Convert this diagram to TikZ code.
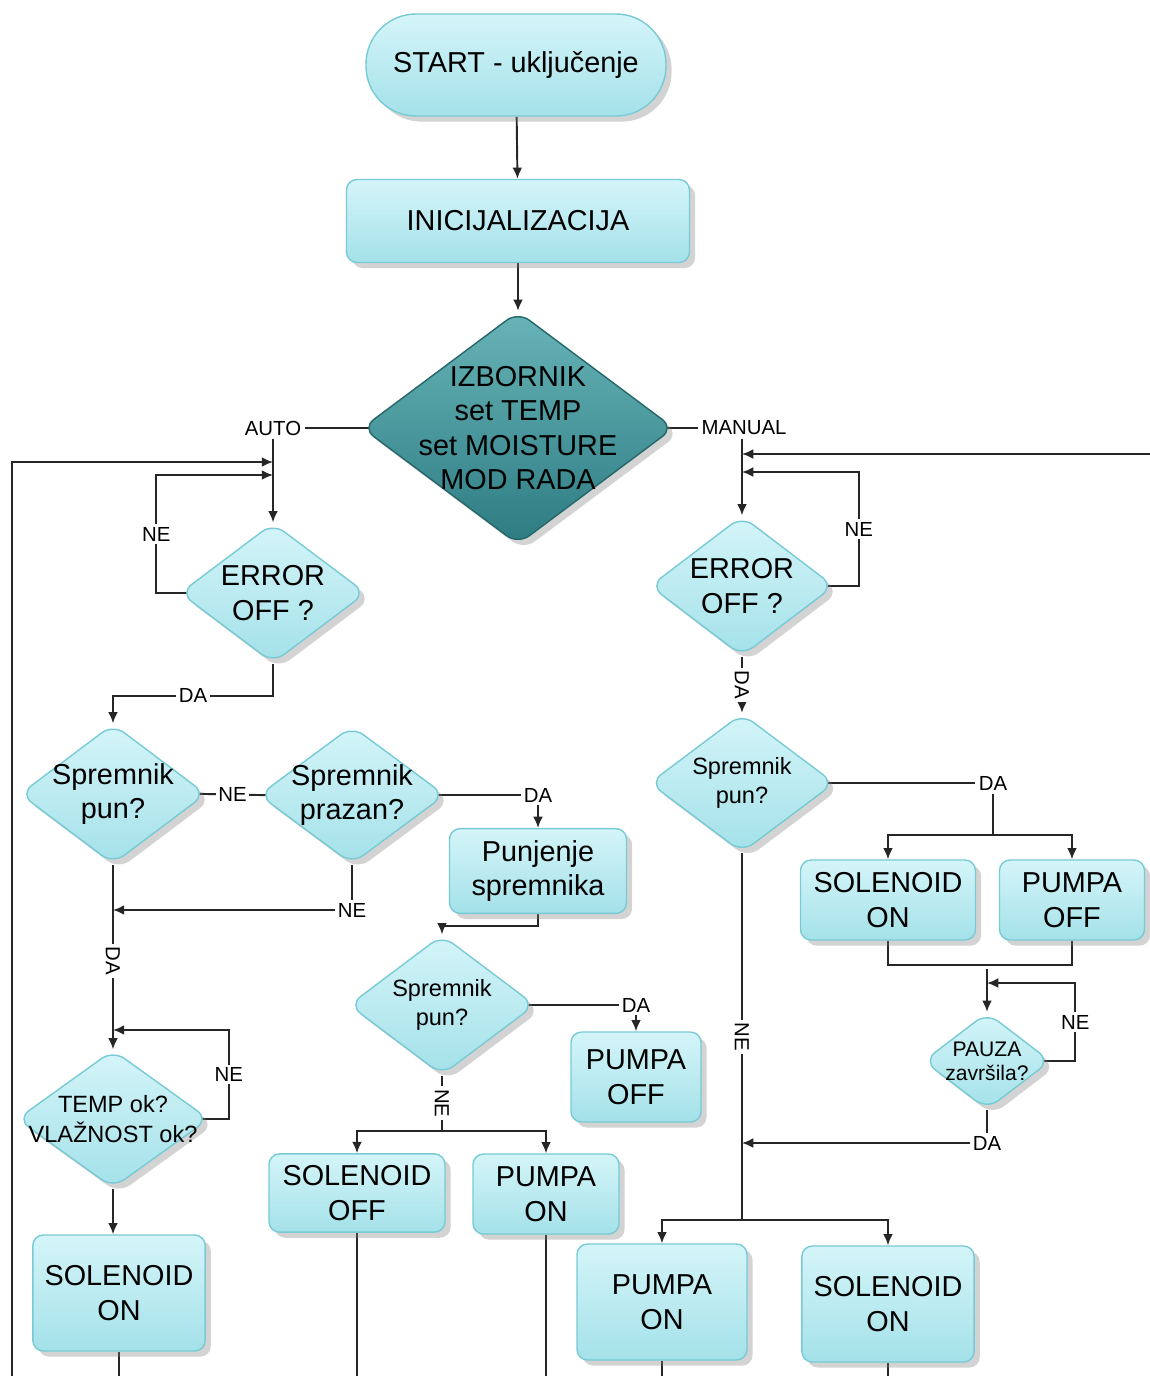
\documentclass[tikz,border=0pt]{standalone}
\usepackage{fontspec}
\setmainfont{Liberation Sans}
\usepackage{tikz}
\usetikzlibrary{positioning,calc,shapes.geometric,shadows,backgrounds,arrows.meta}
\definecolor{boxtop}{HTML}{D4F5F9}
\definecolor{boxbot}{HTML}{A4E1E9}
\definecolor{boxline}{HTML}{78CAD4}
\definecolor{menutop}{HTML}{68B4B8}
\definecolor{menubot}{HTML}{2D7C82}
\definecolor{menuline}{HTML}{24666B}

\begin{document}
\begin{tikzpicture}[
		font=\fontsize{8.2}{9.8}\selectfont,
		shade/.style={drop shadow={shadow xshift=1.6pt,shadow yshift=-1.6pt,opacity=0.35}},
		box/.style={rectangle,rounded corners=3pt,draw=boxline,top color=boxtop,bottom color=boxbot,align=center,shade},
		dec/.style={diamond,rounded corners=4pt,inner sep=0pt,draw=boxline,top color=boxtop,bottom color=boxbot,shade},
		dtxt/.style={align=center},
		small/.style={align=center,font=\fontsize{6.7}{8.3}\selectfont},
		tiny/.style={align=center,font=\fontsize{6}{6.8}\selectfont},
		lbl/.style={font=\fontsize{5.8}{6}\selectfont,fill=white,inner sep=0.8pt},
		ln/.style={draw=black!85,line width=0.55pt},
		arr/.style={ln,-{Latex[length=3.2pt,width=2.8pt]}},
		fromtip/.style={shorten <=-3pt},
		totip/.style={shorten >=-3pt}
	]
		\useasboundingbox (0,0) rectangle (11.5,-13.76);
		% top
		\node[box,rounded corners=0.5cm,minimum width=3cm,minimum height=1.02cm] (start) at (5.16,-0.65) {START - uključenje};
		\node[box,minimum width=3.43cm,minimum height=0.83cm] (init) at (5.18,-2.21) {INICIJALIZACIJA};
		\node[dec,draw=menuline,top color=menutop,bottom color=menubot,minimum width=3.12cm,minimum height=2.33cm,label={[dtxt]center:IZBORNIK\\set TEMP\\set MOISTURE\\MOD RADA}] (menu) at (5.18,-4.28) {};
		% AUTO
		\node[dec,minimum width=1.86cm,minimum height=1.40cm,label={[dtxt]center:ERROR\\OFF ?}] (errA) at (2.73,-5.93) {};
		\node[dec,minimum width=1.86cm,minimum height=1.40cm,label={[dtxt]center:Spremnik\\pun?}] (fullA) at (1.13,-7.94) {};
		\node[dec,minimum width=1.86cm,minimum height=1.38cm,label={[dtxt]center:Spremnik\\prazan?}] (emptyA) at (3.52,-7.95) {};
		\node[box,minimum width=1.77cm,minimum height=0.82cm] (fillA) at (5.38,-8.71) {Punjenje\\spremnika};
		\node[dec,minimum width=1.86cm,minimum height=1.40cm,label={[small]center:Spremnik\\pun?}] (fullA2) at (4.42,-10.05) {};
		\node[box,minimum width=1.30cm,minimum height=0.90cm] (pumpOffA) at (6.36,-10.77) {PUMPA\\OFF};
		\node[box,minimum width=1.76cm,minimum height=0.78cm] (solOffA) at (3.57,-11.93) {SOLENOID\\OFF};
		\node[box,minimum width=1.46cm,minimum height=0.80cm] (pumpOnA) at (5.46,-11.94) {PUMPA\\ON};
		\node[dec,minimum width=1.92cm,minimum height=1.38cm,label={[small]center:TEMP ok?\\VLAŽNOST ok?}] (tempA) at (1.13,-11.19) {};
		\node[box,minimum width=1.70cm,minimum height=1.16cm] (solOnA) at (1.19,-12.93) {SOLENOID\\ON};
		% MANUAL
		\node[dec,minimum width=1.84cm,minimum height=1.40cm,label={[dtxt]center:ERROR\\OFF ?}] (errM) at (7.42,-5.86) {};
		\node[dec,minimum width=1.85cm,minimum height=1.39cm,label={[small]center:Spremnik\\pun?}] (fullM) at (7.42,-7.83) {};
		\node[box,minimum width=1.75cm,minimum height=0.80cm] (solOnM) at (8.88,-9.00) {SOLENOID\\ON};
		\node[box,minimum width=1.45cm,minimum height=0.80cm] (pumpOffM) at (10.72,-9.00) {PUMPA\\OFF};
		\node[dec,minimum width=1.27cm,minimum height=0.97cm,label={[tiny]center:PAUZA\\završila?}] (pause) at (9.87,-10.61) {};
		\node[box,minimum width=1.70cm,minimum height=1.16cm] (pumpOnM) at (6.62,-13.02) {PUMPA\\ON};
		\node[box,minimum width=1.68cm,minimum height=1.16cm] (solOnM2) at (8.88,-13.04) {SOLENOID\\ON};
		
		\begin{scope}[on background layer]
			\draw[arr] (start) -- (init);
			\draw[arr] (init) -- (menu);
			% AUTO side
			\node[lbl] (auto) at (2.73,-4.28) {AUTO};
			\draw[ln,fromtip] (menu) -- (auto);
			\draw[arr] (auto) -- (errA);
			\coordinate (backA) at (0.12,-13.76);
			\coordinate (inA) at (2.73,-4.62);
			\coordinate (loopA) at (2.73,-4.75);
			\draw[arr] (backA) |- (inA);
			\draw[arr,fromtip] (errA.west) -- ++(-0.23,0) |- node[lbl,pos=0.25]{NE} (loopA);
			\draw[arr] (errA.south) -- ++(0,-0.32) -| node[lbl,pos=0.25]{DA} (fullA.north);
			\draw[ln,fromtip,totip] (fullA.east) -- node[lbl]{NE} (emptyA.west);
			\draw[arr,fromtip] (emptyA.east) -| node[lbl,pos=0.5]{DA} (fillA.north);
			\coordinate (inB) at (1.13,-9.10);
			\draw[arr] (emptyA.south) |- node[lbl,pos=0.5]{NE} (inB);
			\draw[arr] (fullA.south) -- node[lbl,rotate=-90,pos=0.52]{DA} (tempA.north);
			\coordinate (loopB) at (1.13,-10.30);
			\draw[arr,fromtip] (tempA.east) -- ++(0.19,0) |- node[lbl,pos=0.25]{NE} (loopB);
			\draw[arr] (tempA.south) -- (tempA.south |- solOnA.north);
			\draw[ln] (solOnA.south) -- (solOnA.south |- backA);
			\draw[arr] (fillA.south) -- ++(0,-0.12) -| (fullA2.north);
			\draw[arr,fromtip] (fullA2.east) -| node[lbl,pos=0.5]{DA} (pumpOffA.north);
			\draw[ln] (fullA2.south) -- node[lbl,rotate=-90]{NE} ++(0,-0.55) coordinate (splitA);
			\draw[arr] (splitA) -| (solOffA.north);
			\draw[arr] (splitA) -| (pumpOnA.north);
			\draw[ln] (solOffA.south) -- (solOffA.south |- backA);
			\draw[ln] (pumpOnA.south) -- (pumpOnA.south |- backA);
			% MANUAL side
			\node[lbl] (manual) at (7.44,-4.28) {MANUAL};
			\draw[ln,fromtip] (menu) -- (manual);
			\draw[arr] (manual.south -| errM) -- (errM);
			\coordinate (backM) at (11.5,-4.54);
			\coordinate (inM) at (7.42,-4.54);
			\coordinate (loopM) at (7.42,-4.72);
			\draw[arr] (backM) -- (inM);
			\draw[arr,fromtip] (errM.east) -- ++(0.24,0) |- node[lbl,pos=0.25]{NE} (loopM);
			\draw[arr] (errM) -- node[lbl,rotate=-90]{DA} (fullM);
			\node[lbl] (daM) at (9.93,-7.83) {DA};
			\draw[ln,fromtip] (fullM) -- (daM);
			\draw[ln] (daM) -- ++(0,-0.52) coordinate (splitM);
			\draw[arr] (splitM) -| (solOnM.north);
			\draw[arr] (splitM) -| (pumpOffM.north);
			\draw[ln] (solOnM.south) -- ++(0,-0.24) -| (pumpOffM.south);
			\coordinate (joinM) at (9.87,-9.69);
			\coordinate (loopP) at (9.87,-9.83);
			\draw[arr] (joinM) -- (pause);
			\draw[arr,fromtip] (pause.east) -- ++(0.24,0) |- node[lbl,pos=0.25]{NE} (loopP);
			\coordinate (inN) at (7.42,-11.43);
			\draw[arr] (pause.south) |- node[lbl,pos=0.5]{DA} (inN);
			\coordinate (splitN) at (7.42,-12.20);
			\draw[ln] (fullM.south) -- node[lbl,rotate=-90,pos=0.5]{NE} (splitN);
			\draw[arr] (splitN) -| (pumpOnM.north);
			\draw[arr] (splitN) -| (solOnM2.north);
			\draw[ln] (pumpOnM.south) -- (pumpOnM.south |- backA);
			\draw[ln] (solOnM2.south) -- (solOnM2.south |- backA);
		\end{scope}
	\end{tikzpicture}
\end{document}
